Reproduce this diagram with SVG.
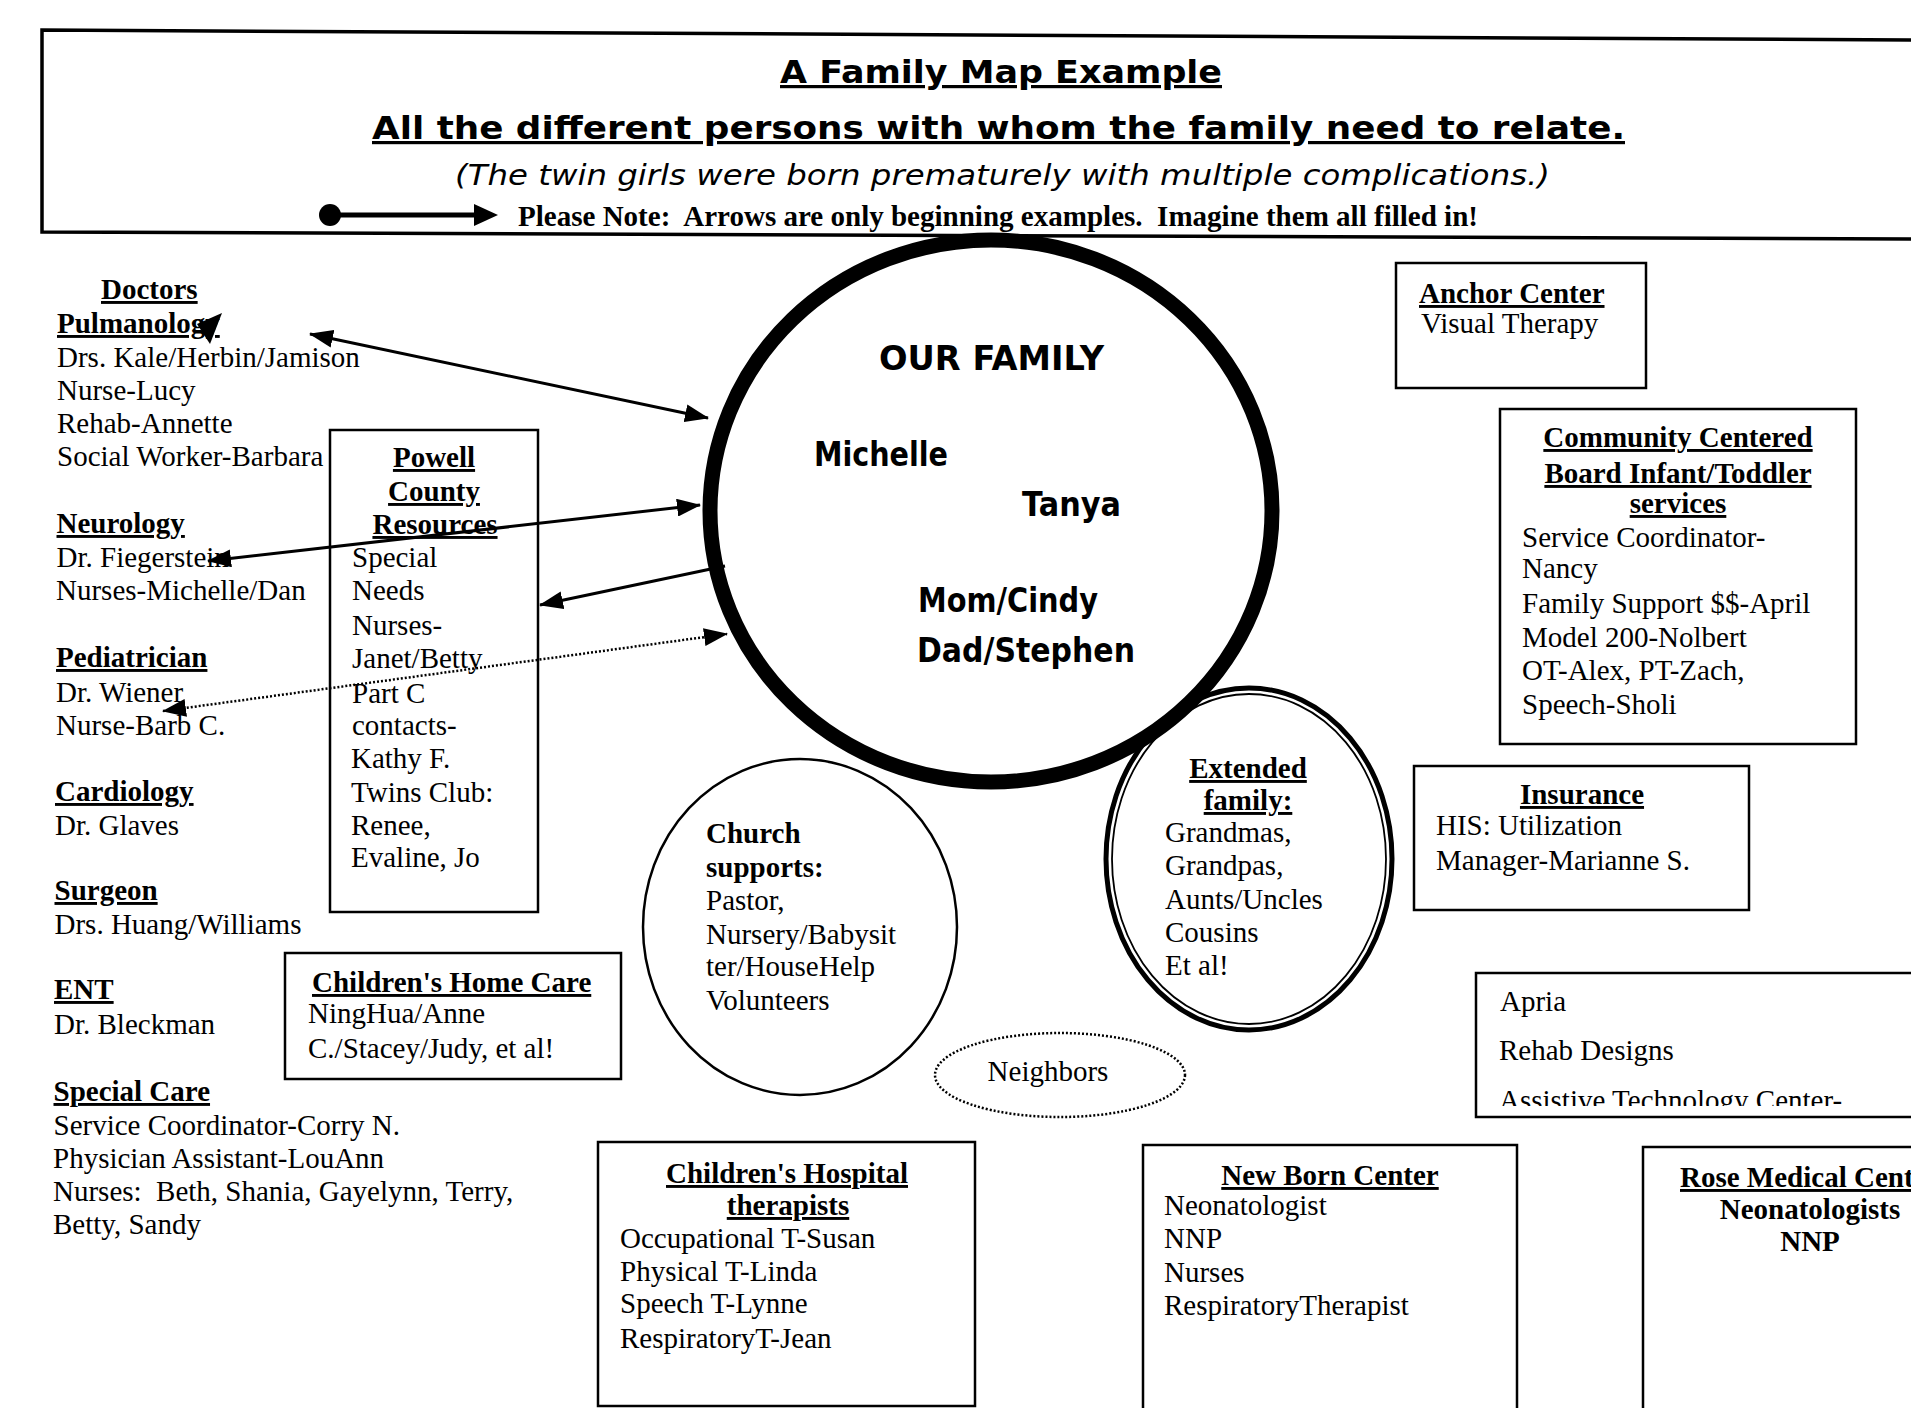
<svg xmlns="http://www.w3.org/2000/svg" width="1911" height="1408" viewBox="0 0 1911 1408">
<style>
.t{font-family:'Liberation Serif','Times New Roman',serif;font-size:29px;fill:#000}
.b{font-weight:bold}
.u{text-decoration:underline}
.m{text-anchor:middle}
.c{font-family:'DejaVu Sans','Noto Sans',sans-serif;font-weight:bold;fill:#000}
.ci{font-family:'DejaVu Sans','Noto Sans',sans-serif;font-weight:normal;font-style:italic;fill:#000}
.box{fill:none;stroke:#000;stroke-width:2.5}
.ln{fill:none;stroke:#000;stroke-width:3}
.dot{fill:none;stroke:#000;stroke-width:2.5;stroke-dasharray:2 2}
</style>
<defs>
<marker id="ah" viewBox="0 0 24 18" refX="23" refY="9" markerWidth="24" markerHeight="18" markerUnits="userSpaceOnUse" orient="auto-start-reverse">
<path d="M0,0 L24,9 L0,18 z" fill="#000"/>
</marker>
<clipPath id="apclip"><rect x="1476" y="973" width="460" height="133"/></clipPath>
</defs>
<rect width="1911" height="1408" fill="#fff"/>

<g id="header">
<path d="M1915,40 L42,30 L42,232 L1915,239" fill="none" stroke="#000" stroke-width="3.5"/>
<text class="c u" x="780" y="83" font-size="32" textLength="442" lengthAdjust="spacingAndGlyphs">A Family Map Example</text>
<text class="c u" x="372" y="139" font-size="32" textLength="1253" lengthAdjust="spacingAndGlyphs">All the different persons with whom the family need to relate.</text>
<text class="ci" x="455" y="185" font-size="29" textLength="1095" lengthAdjust="spacingAndGlyphs">(The twin girls were born prematurely  with multiple complications.)</text>
<circle cx="330" cy="215" r="11" fill="#000"/>
<line x1="330" y1="215" x2="476" y2="215" stroke="#000" stroke-width="5"/>
<path d="M474,204 L498,215 L474,226 z" fill="#000"/>
<text class="t b" x="518" y="226" textLength="960" lengthAdjust="spacingAndGlyphs">Please Note:&#160; Arrows are only beginning examples.&#160; Imagine them all filled in!</text>
</g>

<g id="our-family">
<ellipse cx="991" cy="511" rx="281" ry="271" fill="none" stroke="#000" stroke-width="15"/>
<text class="c" x="879" y="370" font-size="33" textLength="225" lengthAdjust="spacingAndGlyphs">OUR FAMILY</text>
<text class="c" x="814" y="466" font-size="33" textLength="134" lengthAdjust="spacingAndGlyphs">Michelle</text>
<text class="c" x="1022" y="516" font-size="33" textLength="99" lengthAdjust="spacingAndGlyphs">Tanya</text>
<text class="c" x="918" y="612" font-size="33" textLength="180" lengthAdjust="spacingAndGlyphs">Mom/Cindy</text>
<text class="c" x="917" y="662" font-size="33" textLength="218" lengthAdjust="spacingAndGlyphs">Dad/Stephen</text>
</g>

<g id="doctors">
<text class="t b u" x="101" y="299">Doctors</text>
<text class="t b u" x="57" y="333">Pulmanology</text>
<text class="t" x="57" y="367">Drs. Kale/Herbin/Jamison</text>
<text class="t" x="57" y="400">Nurse-Lucy</text>
<text class="t" x="57" y="433">Rehab-Annette</text>
<text class="t" x="57" y="466">Social Worker-Barbara</text>
<text class="t b u" x="56.5" y="533">Neurology</text>
<text class="t" x="56.5" y="567">Dr. Fiegerstein</text>
<text class="t" x="56" y="600">Nurses-Michelle/Dan</text>
<text class="t b u" x="56" y="667">Pediatrician</text>
<text class="t" x="56" y="702">Dr. Wiener</text>
<text class="t" x="56" y="735">Nurse-Barb C.</text>
<text class="t b u" x="55" y="801">Cardiology</text>
<text class="t" x="55" y="835">Dr. Glaves</text>
<text class="t b u" x="54.5" y="900">Surgeon</text>
<text class="t" x="54.5" y="934">Drs. Huang/Williams</text>
<text class="t b u" x="54" y="999">ENT</text>
<text class="t" x="54" y="1034">Dr. Bleckman</text>
<text class="t b u" x="53.5" y="1101">Special Care</text>
<text class="t" x="53.5" y="1135">Service Coordinator-Corry N.</text>
<text class="t" x="53" y="1168">Physician Assistant-LouAnn</text>
<text class="t" x="53" y="1201">Nurses:&#160; Beth, Shania, Gayelynn, Terry,</text>
<text class="t" x="53" y="1234">Betty, Sandy</text>
</g>

<g id="powell">
<rect class="box" x="330" y="430" width="208" height="482"/>
<text class="t b u m" x="434" y="467">Powell</text>
<text class="t b u m" x="434" y="501">County</text>
<text class="t b u m" x="435" y="534">Resources</text>
<text class="t" x="352" y="567">Special</text>
<text class="t" x="352" y="600">Needs</text>
<text class="t" x="352" y="635">Nurses-</text>
<text class="t" x="352" y="668">Janet/Betty</text>
<text class="t" x="352" y="703">Part C</text>
<text class="t" x="352" y="735">contacts-</text>
<text class="t" x="351" y="768">Kathy F.</text>
<text class="t" x="351" y="802">Twins Club:</text>
<text class="t" x="351" y="835">Renee,</text>
<text class="t" x="351" y="867">Evaline, Jo</text>
</g>

<g id="home-care">
<rect class="box" x="285" y="953" width="336" height="126"/>
<text class="t b u" x="312" y="992">Children's Home Care</text>
<text class="t" x="308" y="1023">NingHua/Anne</text>
<text class="t" x="308" y="1058">C./Stacey/Judy, et al!</text>
</g>

<g id="church">
<ellipse cx="800" cy="927" rx="157" ry="168" fill="none" stroke="#000" stroke-width="2.5"/>
<text class="t b" x="706" y="843">Church</text>
<text class="t b" x="706" y="877">supports:</text>
<text class="t" x="706" y="910">Pastor,</text>
<text class="t" x="706" y="944">Nursery/Babysit</text>
<text class="t" x="706" y="976">ter/HouseHelp</text>
<text class="t" x="706" y="1010">Volunteers</text>
</g>

<g id="neighbors">
<ellipse cx="1060" cy="1075" rx="125" ry="42" class="dot"/>
<text class="t m" x="1048" y="1081">Neighbors</text>
</g>

<g id="extended-family">
<ellipse cx="1249" cy="859" rx="143" ry="171" fill="none" stroke="#000" stroke-width="5"/>
<ellipse cx="1249" cy="859" rx="137" ry="165" fill="none" stroke="#000" stroke-width="1.8"/>
<text class="t b u m" x="1248" y="778">Extended</text>
<text class="t b u m" x="1248" y="810">family:</text>
<text class="t" x="1165" y="842">Grandmas,</text>
<text class="t" x="1165" y="875">Grandpas,</text>
<text class="t" x="1165" y="909">Aunts/Uncles</text>
<text class="t" x="1165" y="942">Cousins</text>
<text class="t" x="1165" y="975">Et al!</text>
</g>

<g id="anchor">
<rect class="box" x="1396" y="263" width="250" height="125"/>
<text class="t b u" x="1419" y="303">Anchor Center</text>
<text class="t" x="1421" y="333">Visual Therapy</text>
</g>

<g id="community">
<rect class="box" x="1500" y="409" width="356" height="335"/>
<text class="t b u m" x="1678" y="447">Community Centered</text>
<text class="t b u m" x="1678" y="483">Board Infant/Toddler</text>
<text class="t b u m" x="1678" y="513">services</text>
<text class="t" x="1522" y="547">Service Coordinator-</text>
<text class="t" x="1522" y="578">Nancy</text>
<text class="t" x="1522" y="613">Family Support $$-April</text>
<text class="t" x="1522" y="647">Model 200-Nolbert</text>
<text class="t" x="1522" y="680">OT-Alex, PT-Zach,</text>
<text class="t" x="1522" y="714">Speech-Sholi</text>
</g>

<g id="insurance">
<rect class="box" x="1414" y="766" width="335" height="144"/>
<text class="t b u m" x="1582" y="804">Insurance</text>
<text class="t" x="1436" y="835">HIS: Utilization</text>
<text class="t" x="1436" y="870">Manager-Marianne S.</text>
</g>

<g id="apria">
<rect class="box" x="1476" y="973" width="460" height="144"/>
<text class="t" x="1500" y="1011">Apria</text>
<text class="t" x="1499" y="1060">Rehab Designs</text>
<text class="t" x="1499" y="1110" clip-path="url(#apclip)">Assistive Technology Center-</text>
</g>

<g id="childrens-hospital">
<rect class="box" x="598" y="1142" width="377" height="264"/>
<text class="t b u m" x="787" y="1183">Children's Hospital</text>
<text class="t b u m" x="788" y="1215">therapists</text>
<text class="t" x="620" y="1248">Occupational T-Susan</text>
<text class="t" x="620" y="1281">Physical T-Linda</text>
<text class="t" x="620" y="1313">Speech T-Lynne</text>
<text class="t" x="620" y="1348">RespiratoryT-Jean</text>
</g>

<g id="new-born">
<rect class="box" x="1143" y="1145" width="374" height="290"/>
<text class="t b u m" x="1330" y="1185">New Born Center</text>
<text class="t" x="1164" y="1215">Neonatologist</text>
<text class="t" x="1164" y="1248">NNP</text>
<text class="t" x="1164" y="1282">Nurses</text>
<text class="t" x="1164" y="1315">RespiratoryTherapist</text>
</g>

<g id="rose-medical">
<rect class="box" x="1643" y="1147" width="300" height="290"/>
<text class="t b u" x="1680" y="1187">Rose Medical Center</text>
<text class="t b m" x="1810" y="1219">Neonatologists</text>
<text class="t b m" x="1810" y="1251">NNP</text>
</g>

<g id="connectors">
<line class="ln" x1="310" y1="334" x2="708" y2="418" marker-start="url(#ah)" marker-end="url(#ah)"/>
<line class="ln" x1="208" y1="561" x2="700" y2="505" marker-start="url(#ah)" marker-end="url(#ah)"/>
<line class="ln" x1="725" y1="566" x2="540" y2="605" marker-end="url(#ah)"/>
<line class="dot" x1="163" y1="711" x2="727" y2="634" marker-start="url(#ah)" marker-end="url(#ah)"/>
<path d="M222,313 L197,324 L210,344 z" fill="#000"/>
</g>
</svg>
